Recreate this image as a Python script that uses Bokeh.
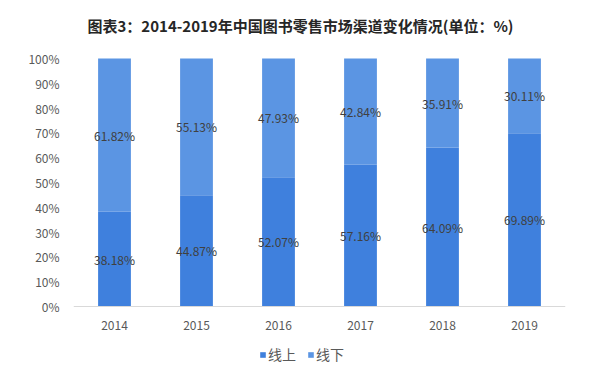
from bokeh.plotting import figure
from bokeh.models import (ColumnDataSource, LabelSet, Legend, LegendItem, FixedTicker,
                          Label, Span, Range1d)
from bokeh.embed import file_html
from bokeh.resources import INLINE
from bokeh.core.properties import value

years = ["2014", "2015", "2016", "2017", "2018", "2019"]
online = [38.18, 44.87, 52.07, 57.16, 64.09, 69.89]
offline = [61.82, 55.13, 47.93, 42.84, 35.91, 30.11]
y_ticks = [0, 10, 20, 30, 40, 50, 60, 70, 80, 90, 100]
title_text = "图表3：2014-2019年中国图书零售市场渠道变化情况(单位：%)"

FONT = "Noto Sans CJK SC"
c_on = "#3f80dd"
c_off = "#5b95e3"

src = ColumnDataSource(dict(
    year=years, online=online, offline=offline, base=[0] * len(years),
    on_mid=[o / 2 for o in online],
    off_mid=[o + f / 2 for o, f in zip(online, offline)],
    on_lbl=["%.2f%%" % o for o in online],
    off_lbl=["%.2f%%" % f for f in offline],
))

# the frame fills the whole height; 100% sits 58px from the top, 0% 66px above the bottom
H = 372
TOP = 58
ZERO_PX = 306
per_px = 100.0 / (ZERO_PX - TOP)
p = figure(x_range=years,
           y_range=Range1d(-(H - ZERO_PX) * per_px, 100 + TOP * per_px),
           width=592, height=H, output_backend="svg", toolbar_location=None,
           x_axis_location=None,
           min_border_left=73, min_border_right=27, min_border_top=0, min_border_bottom=0)
p.title = None

rs = p.vbar_stack(["online", "offline"], x="year", width=0.4, source=src,
                  color=[c_on, c_off], line_color=None)

p.add_layout(Span(location=0, dimension="width", line_color="#d9d9d9", line_width=1))

p.add_layout(LabelSet(x="year", y="on_mid", text="on_lbl", source=src,
                      text_align="center", text_baseline="middle",
                      text_font=value(FONT), text_font_size="12px", text_color="#404040"))
p.add_layout(LabelSet(x="year", y="off_mid", text="off_lbl", source=src,
                      text_align="center", text_baseline="middle",
                      text_font=value(FONT), text_font_size="12px", text_color="#404040"))
# category labels under the baseline
p.add_layout(LabelSet(x="year", y="base", text="year", source=src, y_offset=-19,
                      text_align="center", text_baseline="middle",
                      text_font=value(FONT), text_font_size="12px", text_color="#595959"))

# chart title, centred over the page
p.add_layout(Label(x=len(years) / 2, y=100, x_offset=-19, y_offset=33, text=title_text,
                   text_align="center", text_baseline="middle", text_font=FONT,
                   text_font_size="15px", text_font_style="bold", text_color="#262626"))

p.yaxis.ticker = FixedTicker(ticks=y_ticks)
p.yaxis.major_label_overrides = {t: "%d%%" % t for t in y_ticks}
p.yaxis.major_tick_line_color = None
p.yaxis.minor_tick_line_color = None
p.yaxis.major_label_text_font = FONT
p.yaxis.major_label_text_font_size = "12px"
p.yaxis.major_label_text_color = "#595959"
p.yaxis.axis_line_color = None
p.yaxis.major_label_standoff = 8
p.xgrid.grid_line_color = None
p.ygrid.grid_line_color = None
p.outline_line_color = None
p.x_range.range_padding = 0

legend = Legend(items=[LegendItem(label="线上", renderers=[rs[0]]),
                       LegendItem(label="线下", renderers=[rs[1]])],
                orientation="horizontal", location=(186, 8),
                glyph_width=7, glyph_height=7, label_text_font=FONT,
                label_text_font_size="14px", label_text_color="#595959",
                spacing=11, label_standoff=2, padding=0, margin=0,
                border_line_color=None, background_fill_alpha=0)
p.add_layout(legend, "center")

open("out.html", "w").write(file_html(p, INLINE))
